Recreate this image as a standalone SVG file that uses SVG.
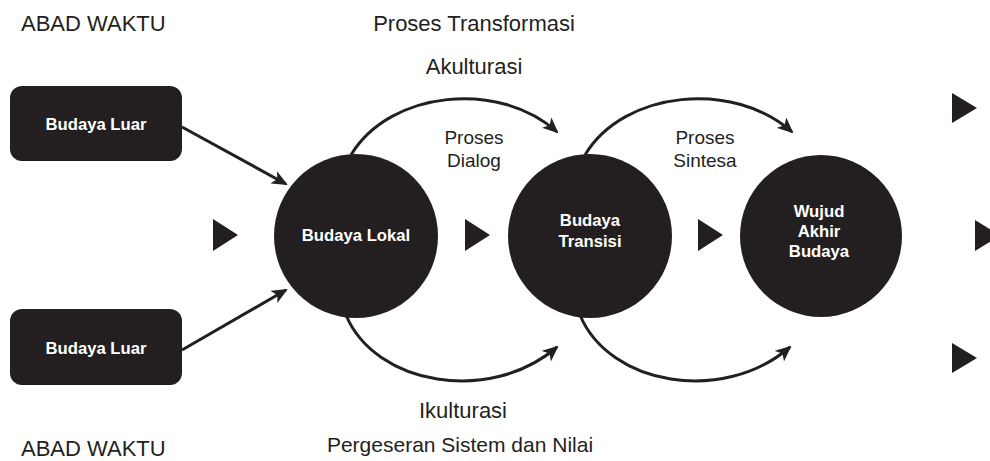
<svg xmlns="http://www.w3.org/2000/svg" width="990" height="461" viewBox="0 0 990 461">
<style>
.lbl{font-family:"Liberation Sans",Arial,sans-serif;font-size:22px;fill:#231f20}
.sm{font-family:"Liberation Sans",Arial,sans-serif;font-size:19px;fill:#231f20;text-anchor:middle}
.in{font-family:"Liberation Sans",Arial,sans-serif;font-size:16.7px;font-weight:bold;fill:#fff;text-anchor:middle}
.node{fill:#231f20}
.con{fill:none;stroke:#231f20;stroke-width:3}
.tri{fill:#231f20}
</style>
<defs>
<marker id="ah" markerUnits="userSpaceOnUse" markerWidth="16" markerHeight="14" refX="14" refY="7" orient="auto">
<path d="M0,0 L16,7 L0,14 L4,7 Z" fill="#231f20"/>
</marker>
</defs>
<rect width="990" height="461" fill="#fff"/>
<text class="lbl" x="21" y="31">ABAD WAKTU</text>
<text class="lbl" x="21" y="456">ABAD WAKTU</text>
<text class="lbl" x="474" y="31" text-anchor="middle">Proses Transformasi</text>
<text class="lbl" x="474" y="74" text-anchor="middle">Akulturasi</text>
<text class="lbl" x="463" y="418" text-anchor="middle">Ikulturasi</text>
<text class="lbl" x="460" y="452" text-anchor="middle" style="font-size:21px">Pergeseran Sistem dan Nilai</text>
<text class="sm" x="474" y="144">Proses</text>
<text class="sm" x="474" y="167">Dialog</text>
<text class="sm" x="705" y="144">Proses</text>
<text class="sm" x="705" y="167">Sintesa</text>
<g id="triangles">
<polygon class="tri" points="213,219 238,235 213,251"/>
<polygon class="tri" points="465,219 490,235 465,251"/>
<polygon class="tri" points="698,219 723,235 698,251"/>
<polygon class="tri" points="975,220 1000,235.5 975,251"/>
<polygon class="tri" points="952,93 977,108 952,123"/>
<polygon class="tri" points="952,343 977,358 952,373"/>
</g>
<g id="connectors">
<path class="con" d="M182,127 L286,184" marker-end="url(#ah)"/>
<path class="con" d="M182,350 L286,290" marker-end="url(#ah)"/>
<path class="con" d="M351,155 C390,90 500,80 557,132" marker-end="url(#ah)"/>
<path class="con" d="M585,155 C624,90 734,80 792,132" marker-end="url(#ah)"/>
<path class="con" d="M346,315 C375,385 490,405 557,347" marker-end="url(#ah)"/>
<path class="con" d="M580,315 C609,385 723,405 790,347" marker-end="url(#ah)"/>
</g>
<g id="luar1">
<rect class="node" x="10" y="86" width="172" height="75" rx="12"/>
<text class="in" x="96" y="130">Budaya Luar</text>
</g>
<g id="luar2">
<rect class="node" x="10" y="309" width="172" height="76" rx="12"/>
<text class="in" x="96" y="354">Budaya Luar</text>
</g>
<g id="lokal">
<circle class="node" cx="356" cy="236" r="82"/>
<text class="in" x="356" y="241">Budaya Lokal</text>
</g>
<g id="transisi">
<circle class="node" cx="590" cy="236" r="82"/>
<text class="in" x="590" y="226">Budaya</text>
<text class="in" x="590" y="247">Transisi</text>
</g>
<g id="wujud">
<circle class="node" cx="821" cy="236" r="81"/>
<text class="in" x="819" y="217">Wujud</text>
<text class="in" x="819" y="237">Akhir</text>
<text class="in" x="819" y="257">Budaya</text>
</g>
</svg>
